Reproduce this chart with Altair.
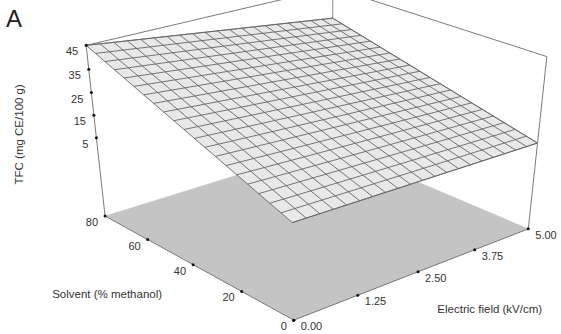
import altair as alt
import pandas as pd

# ---------------- data ----------------
solvent_ticks = [0, 20, 40, 60, 80]
solvent_labels = ["0", "20", "40", "60", "80"]
field_ticks = [0.00, 1.25, 2.50, 3.75, 5.00]
field_labels = ["0.00", "1.25", "2.50", "3.75", "5.00"]
tfc_ticks = [5, 15, 25, 35, 45]
tfc_labels = ["5", "15", "25", "35", "45"]

# TFC of the response surface at the corners of the design space
corner_solvent = [0, 0, 80, 80]
corner_field = [0.0, 5.0, 0.0, 5.0]
corner_tfc = [10.0, 8.0, 45.0, 31.0]

TFC_LOW, TFC_HIGH = -32.0, 45.0
SOLV_MAX, FIELD_MAX = 80.0, 5.0
N_MESH = 20

# ---------------- view: perspective camera (3x4 projection matrix) ----------------
CAM_X = [301.517, -173.626, -29.6323, 293.763]
CAM_Y = [-62.2312, -73.0815, -199.38, 320.127]
CAM_W = [0.126854, 0.143243, -0.0924769, 1.0]


def lin(c):
    return f"({c[0]}*datum.u+{c[1]}*datum.v+{c[2]}*datum.w+{c[3]})"


px_expr = f"{lin(CAM_X)}/{lin(CAM_W)}"
py_expr = f"{lin(CAM_Y)}/{lin(CAM_W)}"


def surf(s, f):
    t00, t05, t80, t85 = corner_tfc
    a = s / SOLV_MAX
    c = f / FIELD_MAX
    return (t00 * (1 - a) * (1 - c) + t05 * (1 - a) * c + t80 * a * (1 - c) + t85 * a * c)


def project(ch):
    return ch.transform_calculate(
        u=f"datum.field/{FIELD_MAX}",
        v=f"datum.solvent/{SOLV_MAX}",
        w=f"(datum.tfc-({TFC_LOW}))/({TFC_HIGH}-({TFC_LOW}))",
    ).transform_calculate(px=px_expr, py=py_expr)


X = alt.X("px:Q", scale=alt.Scale(domain=[0, 561]), axis=None)
Y = alt.Y("py:Q", scale=alt.Scale(domain=[0, 334], reverse=True), axis=None)

floor = pd.DataFrame({"solvent": [0, 0, 80, 80], "field": [0, 5, 5, 0],
                      "tfc": [TFC_LOW] * 4, "k": [0, 1, 2, 3]})
surface = pd.DataFrame({"solvent": [0, 0, 80, 80], "field": [0, 5, 5, 0],
                        "tfc": [corner_tfc[0], corner_tfc[1], corner_tfc[3], corner_tfc[2]],
                        "k": [0, 1, 2, 3]})
rows = []
for i in range(N_MESH + 1):
    f = FIELD_MAX * i / N_MESH
    rows += [dict(id=f"f{i}", k=0, solvent=0, field=f, tfc=surf(0, f)),
             dict(id=f"f{i}", k=1, solvent=SOLV_MAX, field=f, tfc=surf(SOLV_MAX, f))]
    s = SOLV_MAX * i / N_MESH
    rows += [dict(id=f"s{i}", k=0, solvent=s, field=0, tfc=surf(s, 0)),
             dict(id=f"s{i}", k=1, solvent=s, field=FIELD_MAX, tfc=surf(s, FIELD_MAX))]
mesh = pd.DataFrame(rows)

back_edges = pd.DataFrame([
    dict(id="bv", k=0, solvent=80, field=5, tfc=TFC_LOW),
    dict(id="bv", k=1, solvent=80, field=5, tfc=TFC_HIGH),
])
front_edges = pd.DataFrame([
    dict(id="lv", k=0, solvent=80, field=0, tfc=TFC_LOW),
    dict(id="lv", k=1, solvent=80, field=0, tfc=TFC_HIGH),
    dict(id="top", k=0, solvent=80, field=0, tfc=TFC_HIGH),
    dict(id="top", k=1, solvent=80, field=5, tfc=TFC_HIGH),
    dict(id="top", k=2, solvent=0, field=5, tfc=TFC_HIGH),
    dict(id="top", k=3, solvent=0, field=5, tfc=TFC_LOW),
    dict(id="ax", k=0, solvent=80, field=0, tfc=TFC_LOW),
    dict(id="ax", k=1, solvent=0, field=0, tfc=TFC_LOW),
    dict(id="ax", k=2, solvent=0, field=5, tfc=TFC_LOW),
])

ticks_s = pd.DataFrame({"solvent": solvent_ticks, "field": 0.0, "tfc": TFC_LOW, "label": solvent_labels})
ticks_f = pd.DataFrame({"solvent": 0, "field": field_ticks, "tfc": TFC_LOW, "label": field_labels})
ticks_z = pd.DataFrame({"solvent": 80, "field": 0.0, "tfc": tfc_ticks, "label": tfc_labels})

FONT = "Liberation Sans"
TXT = "#333333"

layers = [
    project(alt.Chart(floor).mark_line(fill="#c4c4c4", stroke="#c4c4c4", strokeWidth=0.5))
    .encode(x=X, y=Y, order="k:Q"),
    project(alt.Chart(back_edges).mark_line(color="#8a8a8a", strokeWidth=1))
    .encode(x=X, y=Y, detail="id:N", order="k:Q"),
    project(alt.Chart(surface).mark_line(fill="#e8e8e8", stroke="#707070", strokeWidth=0.9))
    .encode(x=X, y=Y, order="k:Q"),
    project(alt.Chart(mesh).mark_line(color="#666666", strokeWidth=0.9))
    .encode(x=X, y=Y, detail="id:N", order="k:Q"),
    project(alt.Chart(front_edges).mark_line(color="#7a7a7a", strokeWidth=1))
    .encode(x=X, y=Y, detail="id:N", order="k:Q"),
]
for d in (ticks_s, ticks_f, ticks_z):
    layers.append(project(alt.Chart(d).mark_point(filled=True, color="#111111", size=9, opacity=1))
                  .encode(x=X, y=Y))
layers += [
    project(alt.Chart(ticks_s).mark_text(font=FONT, fontSize=11, color=TXT, align="right",
                                         baseline="middle", dx=-7, dy=7))
    .encode(x=X, y=Y, text="label:N"),
    project(alt.Chart(ticks_f).mark_text(font=FONT, fontSize=11, color=TXT, align="left",
                                         baseline="middle", dx=7, dy=7))
    .encode(x=X, y=Y, text="label:N"),
    project(alt.Chart(ticks_z).mark_text(font=FONT, fontSize=11, color=TXT, align="right",
                                         baseline="middle", dx=-8, dy=7))
    .encode(x=X, y=Y, text="label:N"),
]

t_z = pd.DataFrame({"solvent": [80], "field": [0.0], "tfc": [6.5], "label": ["TFC (mg CE/100 g)"]})
t_s = pd.DataFrame({"solvent": [40], "field": [0.0], "tfc": [TFC_LOW], "label": ["Solvent (% methanol)"]})
t_f = pd.DataFrame({"solvent": [0], "field": [3.75], "tfc": [TFC_LOW], "label": ["Electric field (kV/cm)"]})
layers += [
    project(alt.Chart(t_z).mark_text(font=FONT, fontSize=11.5, color=TXT, angle=270,
                                     align="center", baseline="middle", dy=-76))
    .encode(x=X, y=Y, text="label:N"),
    project(alt.Chart(t_s).mark_text(font=FONT, fontSize=11.5, color=TXT, align="center",
                                     baseline="middle", dx=-86, dy=30))
    .encode(x=X, y=Y, text="label:N"),
    project(alt.Chart(t_f).mark_text(font=FONT, fontSize=11.5, color=TXT, align="center",
                                     baseline="middle", dx=15, dy=60))
    .encode(x=X, y=Y, text="label:N"),
    alt.Chart(pd.DataFrame({"label": ["A"]})).mark_text(font=FONT, fontSize=24, color="#222222",
                                                        align="center", baseline="middle")
    .encode(x=alt.value(14), y=alt.value(20), text="label:N"),
]

chart = alt.layer(*layers).properties(
    width=561, height=334, padding=0, autosize=alt.AutoSizeParams(type="none")
).configure_view(stroke=None)

chart.save("out.html", embed_options={"renderer": "svg", "actions": False})
